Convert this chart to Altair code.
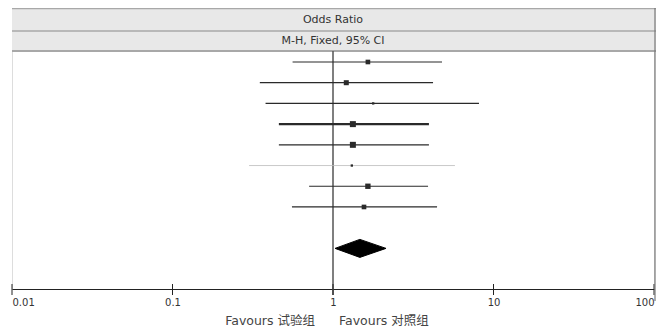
import altair as alt
import pandas as pd

# ---- data ----
study_rows = [1, 2, 3, 4, 5, 6, 7, 8]
odds_ratio = [1.65, 1.21, 1.78, 1.33, 1.33, 1.31, 1.65, 1.56]
ci_low = [0.56, 0.35, 0.38, 0.46, 0.46, 0.30, 0.71, 0.555]
ci_high = [4.78, 4.20, 8.12, 3.96, 3.96, 5.75, 3.91, 4.45]
weights = [12, 14, 3, 20, 20, 3, 16, 12]

pooled_row = 10
pooled_or = 1.47
pooled_low = 1.03
pooled_high = 2.14

tick_values = [0.01, 0.1, 1, 10, 100]
header_title = "Odds Ratio"
header_sub = "M-H, Fixed, 95% CI"
favours_left = "Favours 试验组"
favours_right = "Favours 对照组"

FONT = "DejaVu Sans, Noto Sans CJK SC"

studies = pd.DataFrame({"row": study_rows, "or": odds_ratio,
                        "lo": ci_low, "hi": ci_high, "w": weights})
half = 0.435
diamond = pd.DataFrame({
    "x": [pooled_low, pooled_or, pooled_high],
    "top": [pooled_row, pooled_row - half, pooled_row],
    "bot": [pooled_row, pooled_row + half, pooled_row],
})
ticks = pd.DataFrame({"t": tick_values})
one = pd.DataFrame({"a": [0]})

xscale = alt.Scale(type="log", domain=[0.01, 100], nice=False)
xaxis = alt.Axis(values=tick_values, labelExpr="datum.value >= 1 ? format(datum.value, 'd') : format(datum.value, '')",
                 ticks=False, grid=False, domainColor="#222", domainWidth=1,
                 labelFont=FONT, labelFontSize=10, labelColor="#333",
                 labelPadding=8, labelFlush=True, title=None)
yscale = alt.Scale(domain=[-1.607, 11.961], reverse=True, nice=False, zero=False)


def X(field):
    return alt.X(field, type="quantitative", scale=xscale, axis=xaxis)


def Y(field):
    return alt.Y(field, type="quantitative", scale=yscale, axis=None)


header_bg = alt.Chart(one).mark_rect(color="#e8e8e8").encode(
    x=alt.value(0), x2=alt.value(644), y=alt.value(0), y2=alt.value(43))
header_lines = alt.layer(
    alt.Chart(one).mark_rule(color="#a8a8a8", strokeWidth=1.5).encode(
        x=alt.value(0), x2=alt.value(644), y=alt.value(0.5)),
    alt.Chart(one).mark_rule(color="#a8a8a8", strokeWidth=1.5).encode(
        x=alt.value(0), x2=alt.value(644), y=alt.value(23)),
    alt.Chart(one).mark_rule(color="#a8a8a8", strokeWidth=2).encode(
        x=alt.value(0), x2=alt.value(644), y=alt.value(43)),
)
header_text = alt.layer(
    alt.Chart(one).mark_text(text=header_title, font=FONT, fontSize=11, color="#333",
                             baseline="middle").encode(x=alt.value(321), y=alt.value(12)),
    alt.Chart(one).mark_text(text=header_sub, font=FONT, fontSize=11, color="#333",
                             baseline="middle").encode(x=alt.value(321), y=alt.value(33)),
)

null_line = alt.Chart(one).mark_rule(color="#555", strokeWidth=1.5).encode(
    x=alt.value(321), y=alt.value(43), y2=alt.value(287))

ci = alt.Chart(studies).mark_rule().encode(
    x=X("lo"), x2="hi", y=Y("row"),
    strokeWidth=alt.when(alt.datum.row == 4).then(alt.value(2.3))
        .when(alt.datum.row == 6).then(alt.value(0.8)).otherwise(alt.value(1.2)),
    color=alt.when(alt.datum.row == 6).then(alt.value("#bbbbbb")).otherwise(alt.value("#2a2a2a")),
)

squares = alt.Chart(studies).mark_square(color="#2a2a2a", opacity=1).encode(
    x=X("or"), y=Y("row"),
    size=alt.Size("w:Q", scale=alt.Scale(domain=[0, 20], range=[0, 36]), legend=None),
)

diam = alt.Chart(diamond).mark_area(color="black", orient="vertical", stroke="black",
                                    strokeWidth=1).encode(
    x=X("x"), y=Y("top"), y2="bot")

tick_rules = alt.Chart(ticks).mark_rule(color="#222", strokeWidth=1).encode(
    x=X("t"), y=alt.value(276), y2=alt.value(287))

right_border = alt.Chart(one).mark_rule(color="#777", strokeWidth=1.2).encode(
    x=alt.value(643), y=alt.value(0), y2=alt.value(293))

fav = alt.layer(
    alt.Chart(one).mark_text(text=favours_left, font=FONT, fontSize=12.5, color="#444",
                             align="right", baseline="middle").encode(
        x=alt.value(303), y=alt.value(313)),
    alt.Chart(one).mark_text(text=favours_right, font=FONT, fontSize=12.5, color="#444",
                             align="left", baseline="middle").encode(
        x=alt.value(327), y=alt.value(313)),
)

chart = alt.layer(
    header_bg, header_lines, header_text, null_line, ci, squares, diam,
    tick_rules, right_border, fav
).properties(
    width=642, height=281,
    autosize=alt.AutoSizeParams(type="none"),
    padding={"left": 4, "top": 0, "right": 2, "bottom": 41},
).configure_view(strokeWidth=0).configure(background="white")

chart.save("out.html", embed_options={"renderer": "svg", "actions": False})
